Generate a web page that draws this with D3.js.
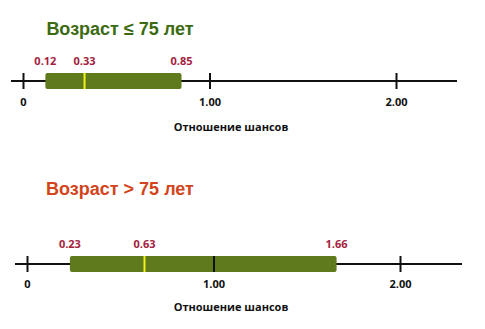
<!DOCTYPE html>
<html>
<head>
<meta charset="utf-8">
<script src="https://cdn.jsdelivr.net/npm/d3@7"></script>
<style>
  body { margin: 0; background: #fff; }
  svg { display: block; }
</style>
</head>
<body>
<div id="chart"></div>
<script>
// данные
const titles = ['Возраст ≤ 75 лет', 'Возраст > 75 лет']
const titleColors = ['#3b6a12', '#d2451c']
const lowVals = [0.12, 0.23]
const midVals = [0.33, 0.63]
const highVals = [0.85, 1.66]
const tickVals = [0, 1, 2]
const tickLabels = ['0', '1.00', '2.00']
const axisTitle = 'Отношение шансов'

const width = 485
const height = 329

const svg = d3.select('#chart').append('svg')
    .attr('width', width)
    .attr('height', height)

// раскладка двух панелей
const panels = [
    {x0: 23, x1: 396, lineL: 11, lineR: 457, axisY: 81, titleY: 35, tickDy: 25, nameDy: 50},
    {x0: 27, x1: 400, lineL: 15, lineR: 462, axisY: 264, titleY: 195, tickDy: 24, nameDy: 47}
]

const smallFont = 'Open Sans, Liberation Sans, Arial, sans-serif'

panels.forEach((p, i) => {
    const g = svg.append('g')
    const x = d3.scaleLinear().domain([0, 2]).range([p.x0, p.x1])
    const y = p.axisY

    // заголовок
    g.append('text')
        .attr('x', 120)
        .attr('y', p.titleY)
        .attr('text-anchor', 'middle')
        .attr('font-family', 'Liberation Sans, Arial, sans-serif')
        .attr('font-weight', 'bold')
        .attr('font-size', 18)
        .attr('fill', titleColors[i])
        .text(titles[i])

    // линия оси
    g.append('line')
        .attr('x1', p.lineL).attr('x2', p.lineR)
        .attr('y1', y).attr('y2', y)
        .attr('stroke', '#111')
        .attr('stroke-width', 2)

    // полоса
    g.append('rect')
        .attr('x', x(lowVals[i]))
        .attr('y', y - 8)
        .attr('width', x(highVals[i]) - x(lowVals[i]))
        .attr('height', 16)
        .attr('rx', 2)
        .attr('fill', '#5f7a1c')

    g.append('line')
        .attr('x1', x(midVals[i])).attr('x2', x(midVals[i]))
        .attr('y1', y - 8).attr('y2', y + 8)
        .attr('stroke', '#f2f21a')
        .attr('stroke-width', 2)

    // подписи значений
    g.selectAll('text.val')
        .data([lowVals[i], midVals[i], highVals[i]])
        .join('text')
        .attr('class', 'val')
        .attr('x', d => x(d))
        .attr('y', y - 16)
        .attr('text-anchor', 'middle')
        .attr('font-family', smallFont)
        .attr('font-weight', 'bold')
        .attr('font-size', 11)
        .attr('fill', '#a3223e')
        .text(d => d.toFixed(2))

    // ось
    const axis = d3.axisBottom(x)
        .tickValues(tickVals)
        .tickFormat((d, k) => tickLabels[k])
        .tickSizeOuter(0)
    const ag = g.append('g')
        .attr('transform', `translate(0,${y})`)
        .call(axis)
    ag.select('.domain').remove()
    ag.selectAll('.tick line')
        .attr('y1', -8).attr('y2', 8)
        .attr('stroke', '#111')
        .attr('stroke-width', 2)
    ag.selectAll('.tick text')
        .attr('y', p.tickDy)
        .attr('dy', 0)
        .attr('font-family', smallFont)
        .attr('font-weight', 'bold')
        .attr('font-size', 11)
        .attr('fill', '#111')

    g.append('text')
        .attr('x', 231)
        .attr('y', y + p.nameDy)
        .attr('text-anchor', 'middle')
        .attr('font-family', smallFont)
        .attr('font-weight', 'bold')
        .attr('font-size', 11)
        .attr('fill', '#111')
        .text(axisTitle)
})
</script>
</body>
</html>
